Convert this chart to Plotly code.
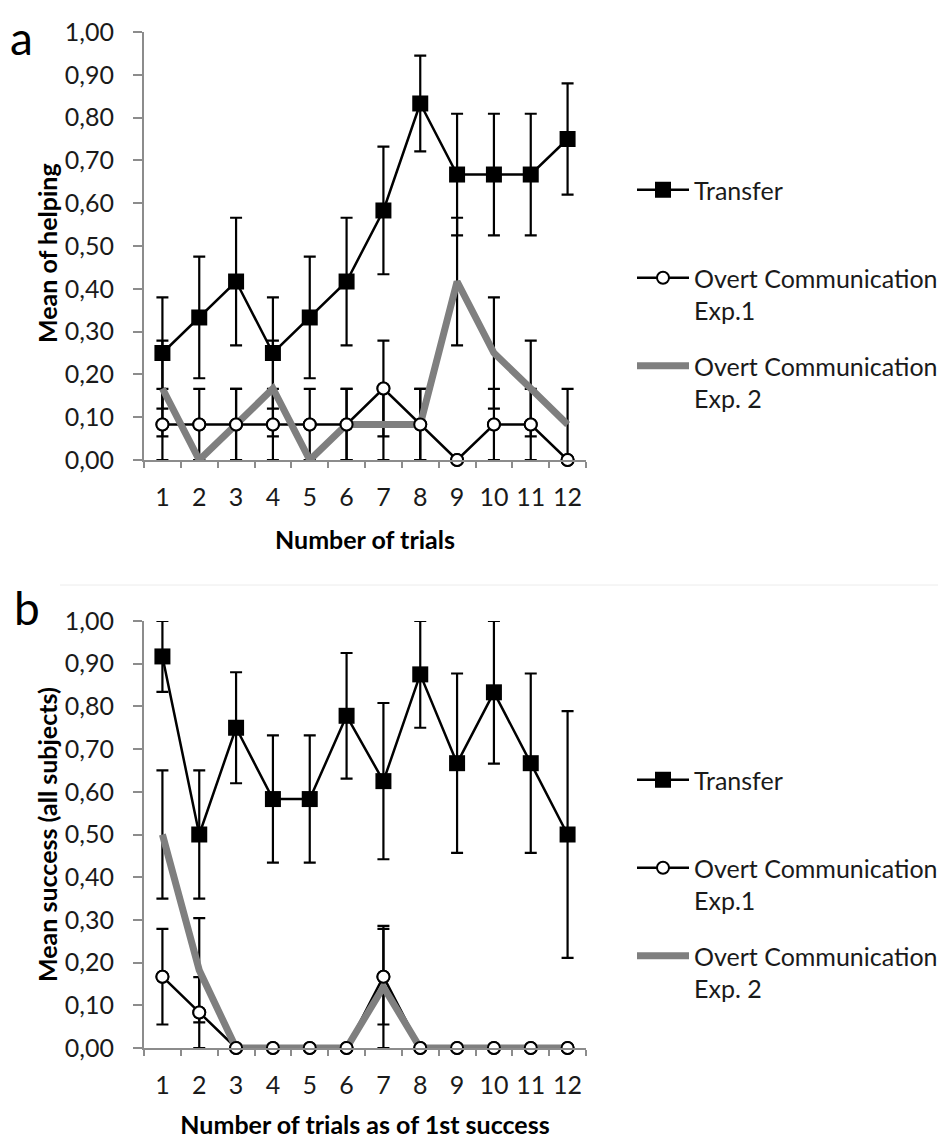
import plotly.graph_objects as go

# The page body has an 8px margin, so the figure is 8px smaller and all
# reference positions (window pixels) are converted with an 8px offset.
OFF = 8
FW, FH = 946 - OFF, 1139 - OFF


def px(x):
    return (x - OFF) / FW


def py(y):
    return 1 - (y - OFF) / FH


trials = [str(i) for i in range(1, 13)]
y_ticks = [i / 10 for i in range(11)]

# Panel a: Mean of helping
a_transfer = [0.25, 0.333, 0.417, 0.25, 0.333, 0.417, 0.583, 0.833, 0.667, 0.667, 0.667, 0.75]
a_transfer_err = [0.13, 0.142, 0.149, 0.13, 0.142, 0.149, 0.149, 0.112, 0.142, 0.142, 0.142, 0.13]
a_exp1 = [0.083, 0.083, 0.083, 0.083, 0.083, 0.083, 0.167, 0.083, 0.0, 0.083, 0.083, 0.0]
a_exp1_err = [0.083, 0.083, 0.083, 0.083, 0.083, 0.083, 0.112, 0.083, None, 0.083, 0.083, None]
a_exp2 = [0.167, 0.0, 0.083, 0.167, 0.0, 0.083, 0.083, 0.083, 0.417, 0.25, 0.167, 0.083]
a_exp2_err = [0.112, None, 0.083, 0.112, None, 0.083, 0.083, 0.083, 0.149, 0.13, 0.112, 0.083]

# Panel b: Mean success (all subjects)
b_transfer = [0.917, 0.5, 0.75, 0.583, 0.583, 0.778, 0.625, 0.875, 0.667, 0.833, 0.667, 0.5]
b_transfer_err = [0.083, 0.15, 0.13, 0.149, 0.149, 0.147, 0.183, 0.125, 0.21, 0.167, 0.21, 0.289]
b_exp1 = [0.167, 0.083, 0.0, 0.0, 0.0, 0.0, 0.167, 0.0, 0.0, 0.0, 0.0, 0.0]
b_exp1_err = [0.112, 0.083, None, None, None, None, 0.112, None, None, None, None, None]
b_exp2 = [0.5, 0.182, 0.0, 0.0, 0.0, 0.0, 0.143, 0.0, 0.0, 0.0, 0.0, 0.0]
b_exp2_err = [0.15, 0.122, None, None, None, None, 0.143, None, None, None, None, None]

names = ["Transfer", "Overt Communication<br>Exp.1", "Overt Communication<br>Exp. 2"]

FONT = "Lato"
TXT = "#1a1a1a"
fig = go.Figure()


def err(arr):
    return dict(type="data", array=arr, visible=True, color="black", thickness=2.2, width=6)


def add_panel(xa, ya, leg, tag, tr, tr_e, e1, e1_e, e2, e2_e):
    fig.add_trace(go.Scatter(
        x=trials, y=tr, error_y=err(tr_e), mode="lines+markers", name=names[0] + "<br> ",
        line=dict(color="black", width=2.5),
        marker=dict(symbol="square", size=16, color="black"),
        xaxis=xa, yaxis=ya, legend=leg, legendgroup=tag + "t", cliponaxis=False))
    fig.add_trace(go.Scatter(
        x=trials, y=e1, error_y=err(e1_e), mode="lines+markers", name=names[1],
        line=dict(color="black", width=2.5),
        marker=dict(symbol="circle", size=12, color="white", line=dict(color="black", width=2)),
        xaxis=xa, yaxis=ya, legend=leg, legendgroup=tag + "e1", cliponaxis=False))
    fig.add_trace(go.Scatter(
        x=trials, y=e2, error_y=err(e2_e), mode="lines", name=names[2],
        line=dict(color="#7f7f7f", width=7),
        xaxis=xa, yaxis=ya, legend=leg, legendgroup=tag + "e2", cliponaxis=False))
    fig.add_trace(go.Scatter(
        x=trials, y=e1, mode="markers", showlegend=False,
        marker=dict(symbol="circle", size=12, color="white", line=dict(color="black", width=2)),
        xaxis=xa, yaxis=ya, cliponaxis=False))


add_panel("x", "y", "legend", "a", a_transfer, a_transfer_err, a_exp1, a_exp1_err, a_exp2, a_exp2_err)
add_panel("x2", "y2", "legend2", "b", b_transfer, b_transfer_err, b_exp1, b_exp1_err, b_exp2, b_exp2_err)

xd = [px(144), px(586)]
ya_dom = [py(460), py(32)]
yb_dom = [py(1048), py(621)]

axis_common_x = dict(
    type="category", tickson="boundaries", ticks="outside", ticklen=6, tickwidth=1.5,
    tickcolor="#8c8c8c", showline=True, linecolor="#8c8c8c", linewidth=2,
    showgrid=False, zeroline=False, range=[-0.5, 11.5], automargin=False, tickangle=0,
    tickfont=dict(family=FONT, size=25, color=TXT), ticklabelstandoff=14,
    domain=xd,
)
axis_common_y = dict(
    range=[0, 1], tickvals=y_ticks, tickformat=".2f", ticks="outside", ticklen=9, tickwidth=1.5,
    tickcolor="#8c8c8c", showline=True, linecolor="#8c8c8c", linewidth=2,
    showgrid=False, zeroline=False, automargin=False,
    tickfont=dict(family=FONT, size=25, color=TXT), ticklabelstandoff=14,
)
title_font = dict(family=FONT, size=25, color="black")
leg_font = dict(family=FONT, size=25, color=TXT)

fig.update_layout(
    width=FW, height=FH, margin=dict(l=0, r=0, t=0, b=0, autoexpand=False),
    paper_bgcolor="white", plot_bgcolor="white", separators=",.",
    xaxis=dict(axis_common_x, anchor="y",
               title=dict(text="<b>Number of trials</b>", font=title_font, standoff=21)),
    yaxis=dict(axis_common_y, domain=ya_dom, anchor="x"),
    xaxis2=dict(axis_common_x, anchor="y2",
                title=dict(text="<b>Number of trials as of 1st success</b>", font=title_font, standoff=26)),
    yaxis2=dict(axis_common_y, domain=yb_dom, anchor="x2"),
    legend=dict(x=px(632), y=py(167), xanchor="left", yanchor="top", valign="top",
                font=leg_font, tracegroupgap=20,
                itemwidth=52, bgcolor="rgba(0,0,0,0)"),
    legend2=dict(x=px(632), y=py(757), xanchor="left", yanchor="top", valign="top",
                 font=leg_font, tracegroupgap=20,
                 itemwidth=52, bgcolor="rgba(0,0,0,0)"),
    annotations=[
        dict(text="a", x=px(8), y=1, xref="paper", yref="paper", xanchor="left", yanchor="top",
             showarrow=False, font=dict(family=FONT, size=46, color="black")),
        dict(text="b", x=px(12), y=py(578), xref="paper", yref="paper", xanchor="left", yanchor="top",
             showarrow=False, font=dict(family=FONT, size=46, color="black")),
        dict(text="<b>Mean of helping</b>", textangle=-90, x=px(47), y=py(253), xref="paper", yref="paper",
             xanchor="center", yanchor="middle", showarrow=False, font=title_font),
        dict(text="<b>Mean success (all subjects)</b>", textangle=-90, x=px(47), y=py(835), xref="paper",
             yref="paper", xanchor="center", yanchor="middle", showarrow=False, font=title_font),
    ],
    shapes=[dict(type="line", xref="paper", yref="paper", x0=px(60), x1=1, y0=py(585), y1=py(585),
                 line=dict(color="#ececec", width=1))],
)

fig.write_html("out.html")
